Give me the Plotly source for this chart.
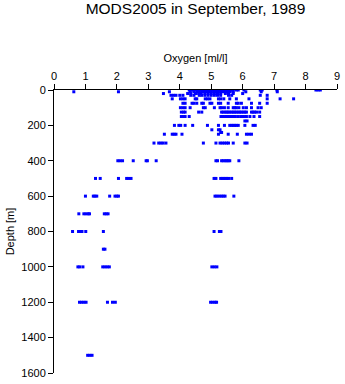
import plotly.graph_objects as go

# Oxygen readings (ml/l) grouped by standard depth level (m)
depths = [0, 10, 20, 30, 50, 75, 100, 125, 150, 175, 200, 225, 240, 250,
          300, 400, 500, 600, 700, 800, 900, 1000, 1200, 1500]

ox_0 = [4.30, 4.35, 4.40, 4.45, 4.50, 4.55, 4.60, 4.65, 4.70, 4.75, 4.80, 4.85,
        4.90, 4.95, 5.00, 5.05, 5.10, 5.15, 5.20, 5.25, 5.30, 5.35, 5.40, 5.45,
        5.50, 5.55, 5.60, 5.65, 5.70, 5.80, 5.86, 6.04, 6.56, 6.62, 7.09, 8.33,
        8.40, 8.47]
ox_10 = [0.63, 2.05, 3.67, 4.33, 4.45, 4.55, 4.62, 4.70, 4.78, 4.85, 4.92, 5.00,
         5.08, 5.15, 5.22, 5.30, 5.38, 5.45, 5.52, 5.60, 5.70, 6.10, 6.59, 7.10]
ox_20 = [3.48, 4.25, 4.35, 4.50, 4.60, 4.68, 4.80, 4.90, 5.00, 5.10, 5.20, 5.30,
         5.45, 5.55, 5.70, 6.00]
ox_30 = [3.72, 3.80, 3.88, 4.00, 4.10, 4.35, 4.45, 4.62, 4.70, 4.80, 4.90, 5.00,
         5.10, 5.20, 5.30, 5.55, 5.65, 6.56, 6.78]
ox_50 = [3.76, 4.02, 4.10, 4.17, 4.49, 4.54, 4.81, 4.88, 4.96, 5.23, 5.30, 5.40,
         5.59, 5.80, 6.20, 6.78, 7.19, 7.62]
ox_75 = [4.10, 4.17, 4.39, 4.45, 4.54, 4.70, 4.75, 4.96, 5.02, 5.23, 5.30, 5.54,
         5.80, 5.86, 5.96, 6.28, 6.54, 6.78]
ox_100 = [4.02, 4.10, 4.17, 4.33, 4.75, 4.81, 5.10, 5.28, 5.33, 5.42, 5.54, 5.70,
          5.75, 5.80, 5.88, 6.02, 6.12, 6.28, 6.49, 6.59]
ox_125 = [4.05, 4.12, 4.17, 4.60, 4.70, 5.33, 5.38, 5.44, 5.49, 5.54, 5.59, 5.65,
          5.70, 5.75, 5.80, 5.86, 5.91, 5.96, 6.02, 6.07, 6.12, 6.28, 6.33, 6.38,
          6.44, 6.54]
ox_150 = [4.05, 4.12, 4.17, 4.30, 5.31, 5.36, 5.42, 5.47, 5.52, 5.57, 5.62, 5.67,
          5.72, 5.77, 5.86, 5.94, 6.00, 6.07, 6.12, 6.23, 6.36, 6.54]
ox_175 = [6.07, 6.14]
ox_200 = [3.83, 3.97, 4.03, 4.17, 4.41, 4.88, 5.23, 5.42, 5.59, 5.65, 5.70, 5.75,
          5.80, 5.86, 6.07, 6.33, 6.40]
ox_225 = [5.02, 5.23, 5.28]
ox_240 = [5.30, 5.33]
ox_250 = [3.51, 3.76, 3.82, 3.88, 4.07, 5.23, 5.54, 5.83, 6.12, 6.20, 6.28]
ox_300 = [3.18, 3.33, 3.40, 3.47, 3.56, 4.75, 5.15, 5.28, 5.35, 5.42, 5.49, 5.55,
          5.70, 6.07, 6.14]
ox_400 = [2.03, 2.10, 2.18, 2.52, 2.93, 2.97, 3.25, 5.15, 5.20, 5.33, 5.38, 5.44,
          5.49, 5.54, 5.59, 5.88]
ox_500 = [1.32, 1.47, 2.05, 2.31, 2.38, 2.45, 5.09, 5.15, 5.30, 5.35, 5.40, 5.45,
          5.50, 5.55, 5.65]
ox_600 = [1.00, 1.25, 1.30, 1.36, 1.77, 1.94, 2.00, 2.05, 5.12, 5.18, 5.25, 5.32,
          5.38, 5.44, 5.72]
ox_700 = [0.79, 0.95, 1.02, 1.09, 1.13, 1.60, 1.66, 1.72]
ox_800 = [0.59, 0.78, 0.84, 0.89, 1.01, 1.57, 5.09, 5.26, 5.31]
ox_900 = [1.57, 1.62]
ox_1000 = [0.76, 0.82, 0.92, 1.55, 1.62, 1.69, 1.76, 5.02, 5.10, 5.18]
ox_1200 = [0.81, 0.88, 0.95, 1.02, 1.70, 1.86, 1.95, 4.98, 5.05, 5.12, 5.17]
ox_1500 = [1.07, 1.14, 1.21]

oxygen_by_depth = [ox_0, ox_10, ox_20, ox_30, ox_50, ox_75, ox_100, ox_125,
                   ox_150, ox_175, ox_200, ox_225, ox_240, ox_250, ox_300,
                   ox_400, ox_500, ox_600, ox_700, ox_800, ox_900, ox_1000,
                   ox_1200, ox_1500]

x_ticks = list(range(0, 10))
y_ticks = list(range(0, 1601, 200))

xs, ys = [], []
for d, vals in zip(depths, oxygen_by_depth):
    xs.extend(vals)
    ys.extend([d] * len(vals))

FONT = "Liberation Sans, Arial, sans-serif"

fig = go.Figure(go.Scatter(
    x=xs, y=ys, mode="markers",
    marker=dict(symbol="square", size=3, color="#0000ff", line=dict(width=0)),
    showlegend=False, hoverinfo="x+y",
))

fig.update_layout(
    width=345, height=384,
    margin=dict(l=54, r=5, t=90, b=9, pad=0),
    paper_bgcolor="white", plot_bgcolor="white",
    font=dict(family=FONT, size=11, color="black"),
    title=dict(text="MODS2005 in September, 1989", x=0.5, xref="paper",
               xanchor="center", y=1 - 9 / 384, yref="container",
               yanchor="middle", font=dict(size=15.5, family=FONT)),
    xaxis=dict(
        side="top", range=[0, 9], tickvals=x_ticks, ticks="outside",
        ticklen=5, tickwidth=1, tickcolor="black", showline=True,
        linecolor="black", linewidth=1, showgrid=False, zeroline=False,
        tickfont=dict(size=11), title=dict(text="Oxygen [ml/l]",
                                           font=dict(size=11), standoff=4),
    ),
    yaxis=dict(
        range=[1600, 0], tickvals=y_ticks, ticks="outside", ticklen=5,
        tickwidth=1, tickcolor="black", showline=True, linecolor="black",
        linewidth=1, showgrid=False, zeroline=False, tickfont=dict(size=11),
        title=dict(text="Depth [m]", font=dict(size=11), standoff=4),
    ),
)

fig.write_html("out.html")
